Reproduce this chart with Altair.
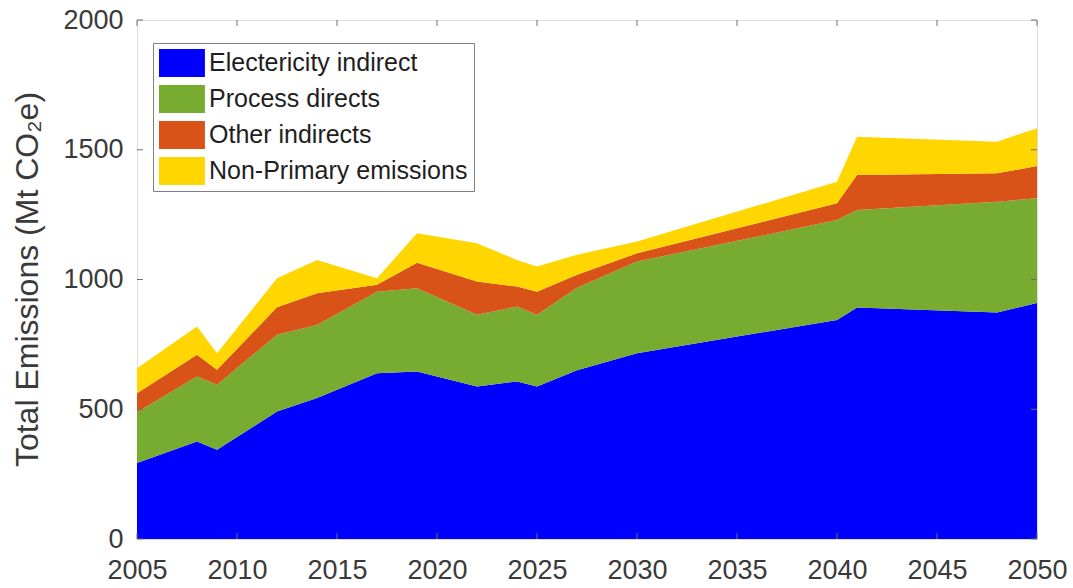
import altair as alt
import pandas as pd

# Stacked emissions by source, Mt CO2e
years = [2005, 2008, 2009, 2012, 2014, 2017, 2019, 2022, 2024, 2025, 2027, 2030, 2040, 2041, 2048, 2050]
electricity_indirect = [293, 376, 344, 491, 543, 639, 645, 588, 607, 588, 650, 716, 844, 892, 873, 909]
process_directs = [195, 250, 250, 296, 282, 314, 321, 276, 289, 276, 318, 353, 385, 376, 427, 404]
other_indirects = [74, 84, 58, 106, 122, 27, 99, 128, 77, 89, 50, 32, 65, 135, 109, 124]
non_primary = [96, 109, 64, 112, 128, 25, 113, 148, 102, 97, 77, 45, 83, 147, 122, 146]

series_names = ["Electericity indirect", "Process directs", "Other indirects", "Non-Primary emissions"]
series_colors = ["#0000FF", "#77AC30", "#D95319", "#FFD600"]

x_ticks = [2005, 2010, 2015, 2020, 2025, 2030, 2035, 2040, 2045, 2050]
y_ticks = [0, 500, 1000, 1500, 2000]

FONT = "Liberation Sans"
TEXT = "#3a3a3a"

rows = []
for order, (name, vals) in enumerate(zip(series_names,
                                         [electricity_indirect, process_directs, other_indirects, non_primary])):
    for yr, v in zip(years, vals):
        rows.append({"year": yr, "series": name, "value": v, "layer": order})
df = pd.DataFrame(rows)

# inward tick marks on all four sides of the box
tick_rows = []
for t in x_ticks:
    tick_rows.append({"x": t, "x2": t, "y": 0, "y2": 23})
    tick_rows.append({"x": t, "x2": t, "y": 2000, "y2": 1977})
for v in y_ticks:
    tick_rows.append({"x": 2005, "x2": 2005.3, "y": v, "y2": v})
    tick_rows.append({"x": 2050, "x2": 2049.7, "y": v, "y2": v})
ticks_df = pd.DataFrame(tick_rows)

x_scale = alt.Scale(domain=[2005, 2050], nice=False, zero=False)
y_scale = alt.Scale(domain=[0, 2000], nice=False)

x_axis = alt.Axis(values=x_ticks, format="d", title=None, ticks=False, domain=False, grid=False,
                  labelFontSize=27, labelColor=TEXT, labelPadding=18, labelFlush=False, labelFont=FONT)
y_axis = alt.Axis(values=y_ticks, format="d", title="Total Emissions (Mt CO₂e)", ticks=False, domain=False,
                  grid=False, labelFontSize=27, labelColor=TEXT, labelPadding=14, labelFont=FONT,
                  titleFontSize=32, titleFont=FONT, titleFontWeight="normal", titleColor=TEXT,
                  titleAngle=270, titleX=-110, titleY=259, titleAlign="center", titleBaseline="middle")

areas = alt.Chart(df).mark_area(interpolate="linear").encode(
    x=alt.X("year:Q", scale=x_scale, axis=x_axis),
    y=alt.Y("value:Q", stack="zero", scale=y_scale, axis=y_axis),
    color=alt.Color(
        "series:N",
        scale=alt.Scale(domain=series_names, range=series_colors),
        legend=alt.Legend(
            title=None, orient="none", legendX=16, legendY=23,
            fillColor="white", strokeColor="#808080", padding=6,
            symbolType="M-1,-1H2.28V1H-1Z", symbolSize=784, symbolStrokeWidth=0, symbolOpacity=1,
            labelFontSize=25, labelFont=FONT, labelColor="#1e1e1e", labelOffset=22,
            rowPadding=8, labelLimit=400,
        ),
    ),
    order=alt.Order("layer:Q", sort="ascending"),
)

tick_marks = alt.Chart(ticks_df).mark_rule(color="#6e6e6e", strokeWidth=1).encode(
    x=alt.X("x:Q", scale=x_scale, axis=x_axis),
    x2="x2:Q",
    y=alt.Y("y:Q", scale=y_scale, axis=y_axis),
    y2="y2:Q",
)

chart = alt.layer(areas, tick_marks).properties(
    width=900,
    height=519,
    padding={"left": 137, "top": 20, "right": 36, "bottom": 49},
    autosize=alt.AutoSizeParams(type="none"),
).configure_view(stroke="#8c8c8c", strokeWidth=1.2).configure(font=FONT)

chart.save("out.html", embed_options={"renderer": "svg", "actions": False})
